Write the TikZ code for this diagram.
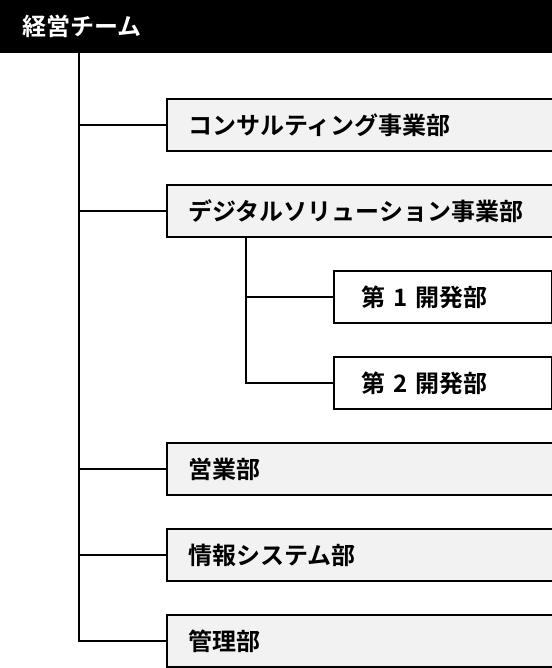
\documentclass[tikz,border=0pt]{standalone}
\usepackage{xcolor}
\usepackage{fontspec}
\usepackage{tikz}
\usetikzlibrary{positioning,calc}
\newfontfamily\jpfont{Noto Sans CJK JP}[BoldFont={Noto Sans CJK JP Bold}]
\definecolor{boxgray}{HTML}{F2F2F2}

\begin{document}
\begin{tikzpicture}[x=0.75pt,y=-0.75pt,
    font=\jpfont\bfseries\fontsize{18pt}{21pt}\selectfont,
    dept/.style={draw, line width=1.5pt, fill=boxgray, anchor=west,
        inner xsep=16pt, text width=257.5pt, align=left, minimum height=39pt},
    subdept/.style={dept, fill=white, inner xsep=20.5pt, text width=122.5pt},
    link/.style={line width=1.5pt}]
    \useasboundingbox (0,0) rectangle (552,668);

    % header bar
    \fill[black] (0,0) rectangle (552,53);
    \node[anchor=west, text=white, inner sep=0pt] (team) at (22,26.5) {経営チーム};

    \node[dept] (consult) at (166,125) {コンサルティング事業部};
    \node[dept] (digital) at (166,211) {デジタルソリューション事業部};
    \node[subdept] (dev1) at (333,297) {第 1 開発部};
    \node[subdept] (dev2) at (333,383) {第 2 開発部};
    \node[dept] (sales) at (166,469) {営業部};
    \node[dept] (infosys) at (166,555) {情報システム部};
    \node[dept] (admin) at (166,641) {管理部};

    \coordinate (trunk) at (79,53);
    \coordinate (subtrunk) at (246,237);

    \draw[link] (trunk) |- (admin.west);
    \foreach \d in {consult,digital,sales,infosys}
        \draw[link] (trunk |- \d.west) -- (\d.west);
    \draw[link] (subtrunk) |- (dev2.west);
    \draw[link] (subtrunk |- dev1.west) -- (dev1.west);
\end{tikzpicture}
\end{document}
